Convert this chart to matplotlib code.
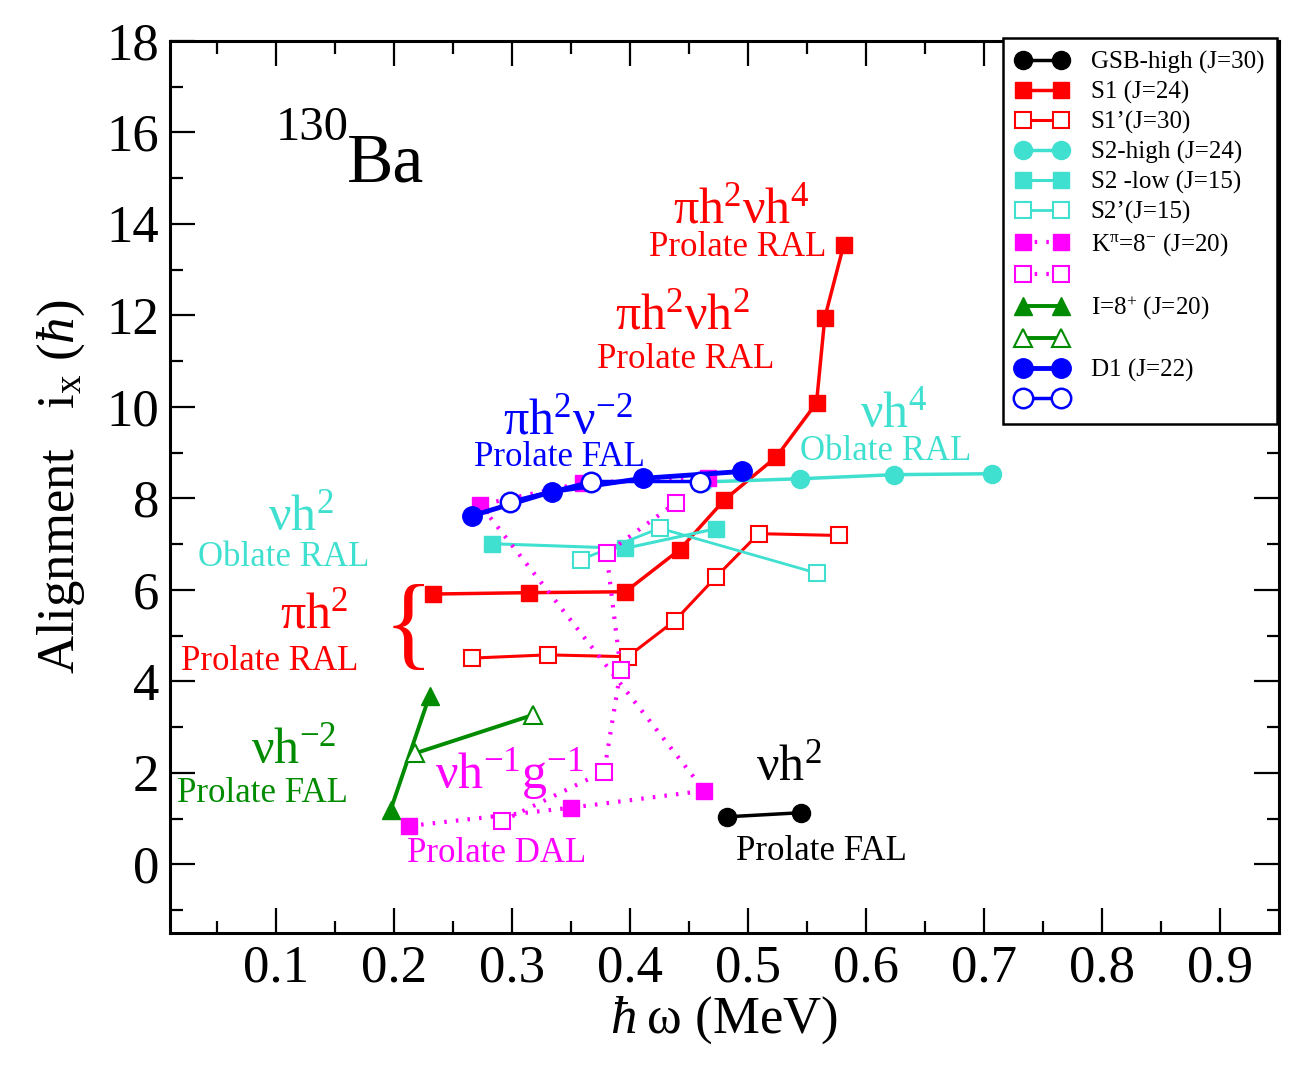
import numpy as np
import matplotlib
matplotlib.use("Agg")
import matplotlib.pyplot as plt

plt.rcParams['font.family'] = ['Liberation Serif', 'DejaVu Serif']
plt.rcParams['mathtext.fontset'] = 'custom'
plt.rcParams['mathtext.rm'] = 'Liberation Serif'
plt.rcParams['mathtext.it'] = 'Liberation Serif:italic'
plt.rcParams['mathtext.default'] = 'regular'

# hbar*omega (MeV) and alignment i_x (hbar)
gsb_w = [0.482, 0.545]
gsb_i = [1.04, 1.13]

s1_w = [0.233, 0.314, 0.396, 0.442, 0.480, 0.524, 0.558, 0.565, 0.581]
s1_i = [5.91, 5.94, 5.96, 6.88, 7.97, 8.91, 10.09, 11.95, 13.54]

s1p_w = [0.266, 0.330, 0.398, 0.438, 0.473, 0.509, 0.577]
s1p_i = [4.51, 4.58, 4.54, 5.33, 6.29, 7.23, 7.19]

s2h_w = [0.462, 0.544, 0.624, 0.707]
s2h_i = [8.36, 8.43, 8.52, 8.54]

s2l_w = [0.283, 0.396, 0.473]
s2l_i = [7.01, 6.91, 7.34]

s2p_w = [0.358, 0.425, 0.558]
s2p_i = [6.66, 7.35, 6.37]

k8_w = [0.213, 0.350, 0.463, 0.273, 0.360, 0.466]
k8_i = [0.84, 1.24, 1.61, 7.86, 8.34, 8.45]

k8p_w = [0.291, 0.378, 0.392, 0.380, 0.439]
k8p_i = [0.94, 2.03, 4.25, 6.80, 7.91]

i8_w = [0.197, 0.230]
i8_i = [1.19, 3.69]

i8p_w = [0.218, 0.318]
i8p_i = [2.43, 3.27]

d1_w = [0.266, 0.334, 0.411, 0.495]
d1_i = [7.62, 8.15, 8.44, 8.59]

d1p_w = [0.298, 0.367, 0.459]
d1p_i = [7.93, 8.37, 8.37]

labels = ["GSB-high (J=30)", "S1 (J=24)", "S1\u2019(J=30)", "S2-high (J=24)",
          "S2 -low (J=15)", "S2\u2019(J=15)", "K$^{\\pi}$=8$^{-}$ (J=20)", "",
          "I=8$^{+}$ (J=20)", "", "D1 (J=22)", ""]

RED = '#ff0000'
TURQ = '#40e0d0'
MAG = '#ff00ff'
GRN = '#008b00'
BLU = '#0000ff'
dots = (0, (0.6, 2.2))

fig = plt.figure(figsize=(13.13, 10.84), dpi=100)
ax = fig.add_axes([170/1313, 151/1084, 1109/1313, 892/1084])

h = []
h += ax.plot(gsb_w, gsb_i, '-', color='k', lw=2.5, marker='o', ms=13)
h += ax.plot(s1_w, s1_i, '-', color=RED, lw=2.5, marker='s', ms=11)
h += ax.plot(s1p_w, s1p_i, '-', color=RED, lw=2.2, marker='s', ms=11, mfc='white', mew=1.5)
h += ax.plot(s2h_w, s2h_i, '-', color=TURQ, lw=2.5, marker='o', ms=13)
h += ax.plot(s2l_w, s2l_i, '-', color=TURQ, lw=2.2, marker='s', ms=11)
h += ax.plot(s2p_w, s2p_i, '-', color=TURQ, lw=2.0, marker='s', ms=11, mfc='white', mew=1.5)
h += ax.plot(k8_w, k8_i, color=MAG, ls=dots, lw=3, marker='s', ms=11)
h += ax.plot(k8p_w, k8p_i, color=MAG, ls=dots, lw=3, marker='s', ms=11, mfc='white', mew=1.5)
h += ax.plot(i8_w, i8_i, '-', color=GRN, lw=2.8, marker='^', ms=13)
h += ax.plot(i8p_w, i8p_i, '-', color=GRN, lw=2.8, marker='^', ms=13, mfc='white', mew=1.5)
h += ax.plot(d1_w, d1_i, '-', color=BLU, lw=3.5, marker='o', ms=14)
h += ax.plot(d1p_w, d1p_i, '-', color=BLU, lw=2.5, marker='o', ms=14, mfc='white', mew=1.8)

ax.set_xlim(0.01, 0.95)
ax.set_ylim(-1.5, 18)
ax.set_xticks(np.arange(0.1, 0.95, 0.1))
ax.set_xticklabels(["0.1", "0.2", "0.3", "0.4", "0.5", "0.6", "0.7", "0.8", "0.9"])
ax.set_xticks(np.arange(0.05, 0.95, 0.05), minor=True)
ax.set_yticks(np.arange(0, 19, 2))
ax.set_yticks(np.arange(-1, 18, 1), minor=True)
ax.tick_params(which='both', direction='in', top=True, right=True, labelsize=38, width=1.6)
ax.tick_params(which='major', length=18, pad=8)
ax.tick_params(which='minor', length=9)
for s in ax.spines.values():
    s.set_linewidth(2.2)

ax.set_xlabel("$\\mathit{\u0127}$\u2009\u03c9 (MeV)", fontsize=38, labelpad=2)
ax.set_ylabel("Alignment   i$_x$ ($\\mathit{\u0127}$)", fontsize=38, labelpad=14)

big = 36
small = 25
ax.text(0.100, 15.84, "130", fontsize=35, color='k')
ax.text(0.160, 14.92, "Ba", fontsize=50, color='k')
ax.text(0.436, 14.02, "\u03c0h$^{2}$\u03bdh$^{4}$", fontsize=big, color=RED)
ax.text(0.416, 13.3, "Prolate RAL", fontsize=small, color=RED)
ax.text(0.387, 11.72, "\u03c0h$^{2}$\u03bdh$^{2}$", fontsize=big, color=RED)
ax.text(0.372, 10.86, "Prolate RAL", fontsize=small, color=RED)
ax.text(0.292, 9.42, "\u03c0h$^{2}$\u03bd$^{-2}$", fontsize=big, color=BLU)
ax.text(0.268, 8.7, "Prolate FAL", fontsize=small, color=BLU)
ax.text(0.595, 9.57, "\u03bdh$^{4}$", fontsize=big, color=TURQ)
ax.text(0.544, 8.84, "Oblate RAL", fontsize=small, color=TURQ)
ax.text(0.093, 7.3, "\u03bdh$^{2}$", fontsize=big, color=TURQ)
ax.text(0.034, 6.52, "Oblate RAL", fontsize=small, color=TURQ)
ax.text(0.103, 5.17, "\u03c0h$^{2}$", fontsize=big, color=RED)
ax.text(0.019, 4.25, "Prolate RAL", fontsize=small, color=RED)
ax.text(0.212, 5.1, "{", fontsize=74, color=RED, ha='center', va='center')
ax.text(0.079, 2.22, "\u03bdh$^{-2}$", fontsize=big, color=GRN)
ax.text(0.016, 1.37, "Prolate FAL", fontsize=small, color=GRN)
ax.text(0.235, 1.67, "\u03bdh$^{-1}$g$^{-1}$", fontsize=big, color=MAG)
ax.text(0.211, 0.06, "Prolate DAL", fontsize=small, color=MAG)
ax.text(0.507, 1.85, "\u03bdh$^{2}$", fontsize=big, color='k')
ax.text(0.490, 0.1, "Prolate FAL", fontsize=small, color='k')

leg = ax.legend(h, labels, loc='upper right', bbox_to_anchor=(0.998, 1.003),
                borderaxespad=0, fontsize=18, frameon=True, fancybox=False,
                edgecolor='black', handlelength=2.1, handletextpad=0.9,
                labelspacing=0.28, borderpad=0.5, numpoints=2, framealpha=1)
leg.get_frame().set_linewidth(1.8)

fig.savefig("out.png", dpi=100)
